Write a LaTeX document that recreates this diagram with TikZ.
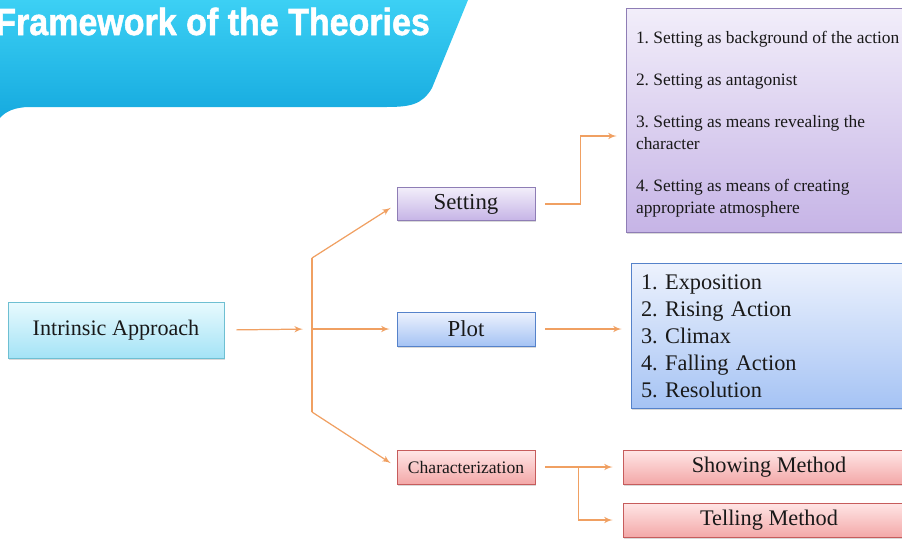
\documentclass[tikz,border=0pt]{standalone}
\usepackage{fontspec}
\setmainfont{Liberation Serif}
\newfontfamily\titlefont[BoldFeatures={FakeBold=1.5}]{Liberation Sans}
\usepackage{tikz}
\usetikzlibrary{arrows,shadows}

\definecolor{arrowc}{HTML}{F0A062}
\definecolor{bannertop}{HTML}{3CD0F4}
\definecolor{bannerbot}{HTML}{16AADF}
\definecolor{cyanT}{HTML}{E8FAFE}
\definecolor{cyanB}{HTML}{A4E3F6}
\definecolor{cyanD}{HTML}{6EBFD2}
\definecolor{lilacT}{HTML}{F2EEFA}
\definecolor{lilacB}{HTML}{C6B4E6}
\definecolor{lilacD}{HTML}{8E7DB5}
\definecolor{blueT}{HTML}{EDF2FD}
\definecolor{blueB}{HTML}{A5C3F4}
\definecolor{blueD}{HTML}{5582CA}
\definecolor{pinkT}{HTML}{FFE6E6}
\definecolor{pinkB}{HTML}{F3A8A8}
\definecolor{pinkD}{HTML}{C65C5C}

\begin{document}
\begin{tikzpicture}[x=0.02cm,y=-0.02cm,
		box/.style={draw, rectangle, inner sep=0pt, text=black!90, drop shadow={shadow xshift=0.7pt, shadow yshift=-0.9pt, opacity=0.3}},
		cyanbox/.style={box, draw=cyanD, top color=cyanT, bottom color=cyanB},
		lilacbox/.style={box, draw=lilacD, top color=lilacT, bottom color=lilacB},
		bluebox/.style={box, draw=blueD, top color=blueT, bottom color=blueB},
		pinkbox/.style={box, draw=pinkD, top color=pinkT, bottom color=pinkB},
		link/.style={draw=arrowc, line width=0.7pt, -latex'},
	]
		%\draw[help lines] (0,0) grid (902,539);
		\useasboundingbox (0,0) rectangle (902,539);
		\shade[top color=bannertop, bottom color=bannerbot] (0,0) -- (468,0) -- (432,88) .. controls (422,105) and (410,107) .. (385,107) -- (30,107) .. controls (14,107) and (5,112) .. (0,118) -- cycle;
		\node[anchor=base west, inner sep=0pt, text=white] (title) at (-5,35) {\scalebox{0.9}[1]{\titlefont\bfseries\fontsize{21.5}{24}\selectfont Framework of the Theories}};

		\node[cyanbox, minimum width=4.32cm, minimum height=1.12cm, font=\fontsize{12.6}{15}\selectfont] (intr) at (116,330) {Intrinsic Approach};
		\node[lilacbox, minimum width=2.76cm, minimum height=0.66cm, font=\fontsize{13}{15}\selectfont] (set) at (466,204) {Setting};
		\node[bluebox, minimum width=2.76cm, minimum height=0.68cm, font=\fontsize{13}{15}\selectfont] (plot) at (466,329) {Plot};
		\node[pinkbox, minimum width=2.76cm, minimum height=0.68cm, font=\fontsize{10}{12}\selectfont] (char) at (466,467) {Characterization};

		\node[lilacbox, minimum width=5.9cm, minimum height=4.48cm] (setlist) at (773.5,120) {};
		\node[anchor=north west, inner sep=0pt, align=left, text=black!90, font=\fontsize{9.9}{12.5}\selectfont\frenchspacing] (setitems) at ([xshift=0.2cm, yshift=-0.47cm]setlist.north west) {1. Setting as background of the action\\[11.3pt]
			2. Setting as antagonist\\[11.3pt]
			3. Setting as means revealing the\\ character\\[11.3pt]
			4. Setting as means of creating\\ appropriate atmosphere};
		\node[bluebox, text width=5.28cm, inner xsep=0.2cm, minimum height=2.9cm, align=left, font=\fontsize{12.7}{15.3}\selectfont\frenchspacing] (plotlist) at (773,336) {1. Exposition\\ 2. Rising Action\\ 3. Climax\\ 4. Falling Action\\ 5. Resolution};
		\node[pinkbox, minimum width=5.84cm, minimum height=0.68cm, font=\fontsize{12.7}{15}\selectfont] (show) at (769,467) {\strut Showing Method};
		\node[pinkbox, minimum width=5.84cm, minimum height=0.68cm, font=\fontsize{12.7}{15}\selectfont] (tell) at (769,520) {\strut Telling Method};

		\coordinate (hub) at (312,329);
		\coordinate (hubtop) at (312,258);
		\coordinate (hubbot) at (312,412);

		\draw[link, shorten <=0.24cm, shorten >=0.18cm] (intr.east) -- (hub);
		\draw[arrowc, line width=0.7pt] (hubtop) -- (hubbot);
		\draw[link, shorten >=0.14cm] (hubtop) -- (set.west);
		\draw[link, shorten >=0.14cm] (hub) -- (plot.west);
		\draw[link, shorten >=0.14cm] (hubbot) -- (char.west);

		\draw[link, shorten <=0.2cm, shorten >=0.18cm] (set.east) -- ++(45,0) |- ([yshift=-0.32cm]setlist.west);
		\draw[link, shorten <=0.2cm, shorten >=0.18cm] (plot.east) -- (plot.east -| plotlist.west);
		\draw[link, shorten <=0.2cm, shorten >=0.2cm] (char.east) -- (show.west);
		\draw[link, shorten >=0.2cm] ([xshift=0.86cm]char.east) |- (tell.west);
\end{tikzpicture}
\end{document}
